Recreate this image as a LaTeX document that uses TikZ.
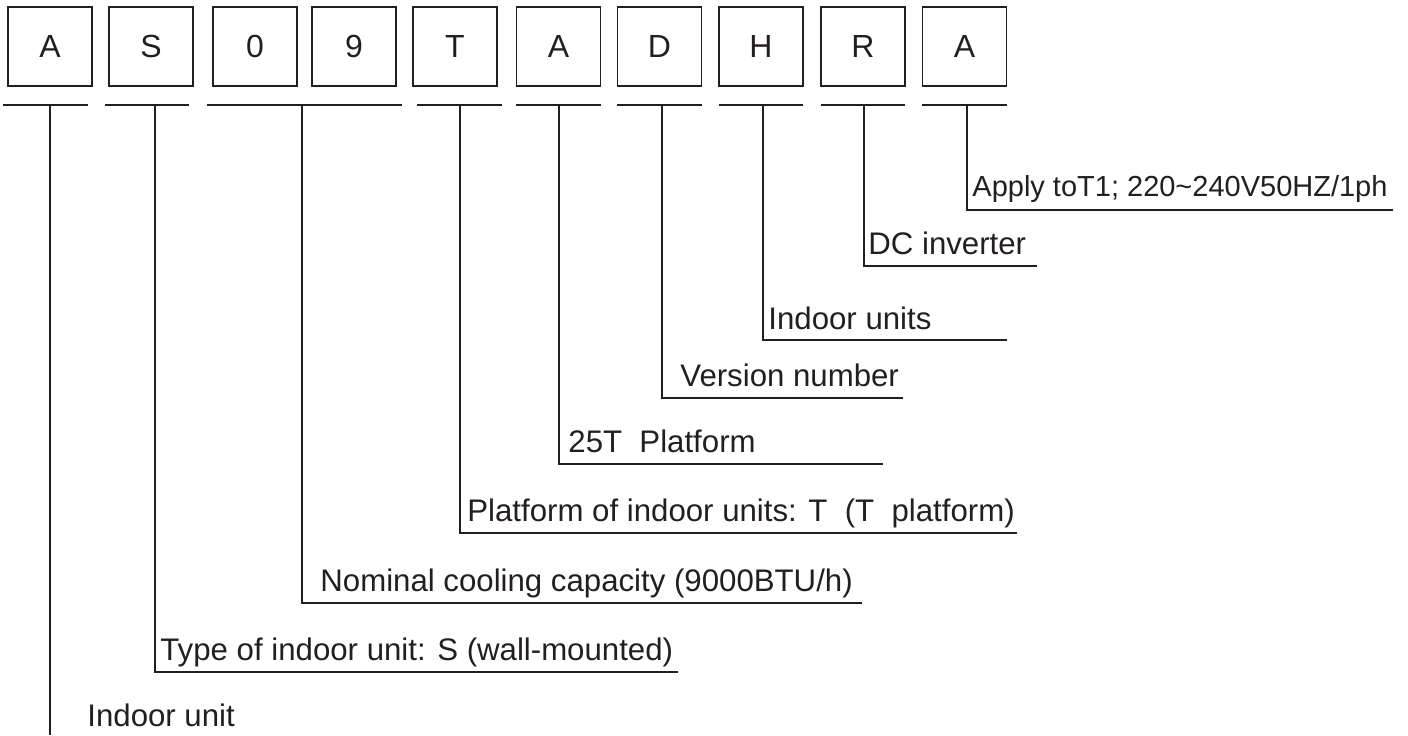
\documentclass[tikz,border=0pt]{standalone}
\usepackage{fontspec}
\setmainfont{Liberation Sans}
\definecolor{ink}{HTML}{231F20}
\tikzset{
  letterbox/.style={draw=ink, line width=0.75pt, minimum width=42pt, minimum height=39.5pt, inner sep=0pt, font=\fontsize{16}{16}\selectfont, text=ink},
  rule/.style={draw=ink, line width=1pt},
  leader/.style={draw=ink, line width=1pt},
  lab/.style={anchor=base west, inner sep=0pt, font=\fontsize{15.6}{15.6}\selectfont, text=ink}
}
\begin{document}
\begin{tikzpicture}[x=0.5pt,y=-0.5pt]
\useasboundingbox (0,0) rectangle (1408,735);
% letter boxes
\node[letterbox] (b1) at (50,46.5) {A};
\node[letterbox] (b2) at (151,46.5) {S};
\node[letterbox] (b3) at (255,46.5) {0};
\node[letterbox] (b4) at (354,46.5) {9};
\node[letterbox] (b5) at (455,46.5) {T};
\node[letterbox] (b6) at (558.5,46.5) {A};
\node[letterbox] (b7) at (659.5,46.5) {D};
\node[letterbox] (b8) at (761,46.5) {H};
\node[letterbox] (b9) at (863,46.5) {R};
\node[letterbox] (b10) at (964.5,46.5) {A};
% slot underlines
\draw[rule] (3,105) -- (88,105);
\draw[rule] (105,105) -- (189,105);
\draw[rule] (207,105) -- (402,105);
\draw[rule] (417,105) -- (502,105);
\draw[rule] (516,105) -- (601,105);
\draw[rule] (617,105) -- (702,105);
\draw[rule] (719,105) -- (803,105);
\draw[rule] (821,105) -- (905,105);
\draw[rule] (922,105) -- (1007,105);
% leader start points
\coordinate (t1) at (50,105);
\coordinate (t2) at (155,105);
\coordinate (t3) at (302,105);
\coordinate (t4) at (460,105);
\coordinate (t5) at (559,105);
\coordinate (t6) at (662,105);
\coordinate (t7) at (763,105);
\coordinate (t8) at (864,105);
\coordinate (t9) at (967,105);
% leader end points
\coordinate (e1) at (50,735);
\coordinate (e2) at (678,672);
\coordinate (e3) at (862,603);
\coordinate (e4) at (1017,533);
\coordinate (e5) at (883,464);
\coordinate (e6) at (903,398);
\coordinate (e7) at (1007,340);
\coordinate (e8) at (1037,266);
\coordinate (e9) at (1393,210);
% labels
\node[lab, font=\fontsize{14.5}{14.5}\selectfont] (l9) at (972,196) {Apply toT1; 220\textasciitilde240V50HZ/1ph};
\node[lab] (l8) at (868,254) {DC inverter};
\node[lab] (l7) at (768,329) {Indoor units};
\node[lab] (l6) at (680,386) {Version number};
\node[lab] (l5) at (568,452) {25T\ \ Platform};
\node[lab] (l4) at (467,521) {Platform of indoor units: T\ \ (T\ \ platform)};
\node[lab] (l3) at (320,591) {Nominal cooling capacity (9000BTU/h)};
\node[lab] (l2) at (160,660) {Type of indoor unit: S (wall-mounted)};
\node[lab] (l1) at (87,726) {Indoor unit};
% leaders
\draw[leader] (t1) -- (e1);
\draw[leader] (t2) |- (e2);
\draw[leader] (t3) |- (e3);
\draw[leader] (t4) |- (e4);
\draw[leader] (t5) |- (e5);
\draw[leader] (t6) |- (e6);
\draw[leader] (t7) |- (e7);
\draw[leader] (t8) |- (e8);
\draw[leader] (t9) |- (e9);
\end{tikzpicture}
\end{document}
